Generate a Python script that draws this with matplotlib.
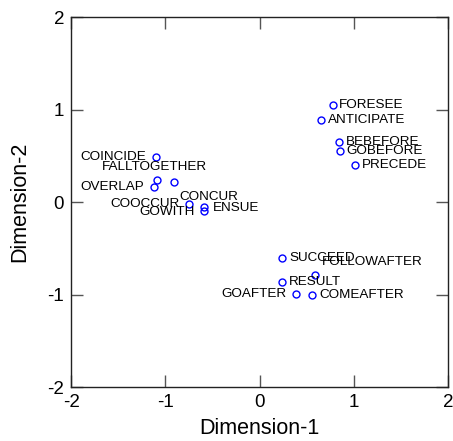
import matplotlib
matplotlib.use("Agg")
import matplotlib.pyplot as plt

plt.rcParams['font.family'] = ['Liberation Sans', 'DejaVu Sans']
plt.rcParams['axes.unicode_minus'] = False

# MDS coordinates
words = ['FORESEE', 'ANTICIPATE', 'BEBEFORE', 'GOBEFORE', 'PRECEDE',
         'COINCIDE', 'FALLTOGETHER', 'OVERLAP', 'CONCUR', 'COOCCUR',
         'ENSUE', 'GOWITH',
         'SUCCEED', 'FOLLOWAFTER', 'RESULT', 'GOAFTER', 'COMEAFTER']
dim1 = [0.78, 0.65, 0.84, 0.85, 1.01,
        -1.10, -1.09, -1.12, -0.91, -0.75,
        -0.59, -0.59,
        0.24, 0.59, 0.24, 0.39, 0.56]
dim2 = [1.05, 0.89, 0.65, 0.55, 0.40,
        0.49, 0.24, 0.16, 0.22, -0.02,
        -0.05, -0.10,
        -0.61, -0.79, -0.86, -0.99, -1.01]

# label placement: (dx px, dy px, horizontal alignment)
label_pos = {
    'FORESEE': (6, 0, 'left'), 'ANTICIPATE': (7, 0, 'left'),
    'BEBEFORE': (7, 0, 'left'), 'GOBEFORE': (7, 0, 'left'),
    'PRECEDE': (7, 0, 'left'),
    'COINCIDE': (-10, 0, 'right'), 'FALLTOGETHER': (-2, 13, 'center'),
    'OVERLAP': (-10, 0, 'right'), 'CONCUR': (6, -15, 'left'),
    'COOCCUR': (-9, 0, 'right'), 'ENSUE': (9, -1, 'left'),
    'GOWITH': (-9, -1, 'right'),
    'SUCCEED': (7, 0, 'left'), 'FOLLOWAFTER': (7, 13, 'left'),
    'RESULT': (7, 0, 'left'), 'GOAFTER': (-10, 0, 'right'),
    'COMEAFTER': (7, 0, 'left'),
}

fig = plt.figure(figsize=(4.53, 4.41), dpi=100)
ax = fig.add_axes([0.157, 0.1224, 0.832, 0.839])

ax.plot(dim1, dim2, 'o', ms=5, mfc='none', mec='#0000ff', mew=1.0, ls='none')

for w, x, y in zip(words, dim1, dim2):
    dx, dy, ha = label_pos[w]
    ax.annotate(w, (x, y), xytext=(dx, dy), textcoords='offset pixels',
                ha=ha, va='center', fontsize=9.7, color='black')

ax.set_xlim(-2, 2)
ax.set_ylim(-2, 2)
ax.set_xticks([-2, -1, 0, 1, 2])
ax.set_yticks([-2, -1, 0, 1, 2])
ax.tick_params(direction='in', length=8.5, width=1, color='#555555',
               top=True, right=True, labelsize=13.5, pad=5)
for s in ax.spines.values():
    s.set_color('#222222')
    s.set_linewidth(1)

ax.set_xlabel('Dimension-1', fontsize=15.5, labelpad=5)
ax.set_ylabel('Dimension-2', fontsize=15.5, labelpad=12)

fig.savefig('out.png', dpi=100)
